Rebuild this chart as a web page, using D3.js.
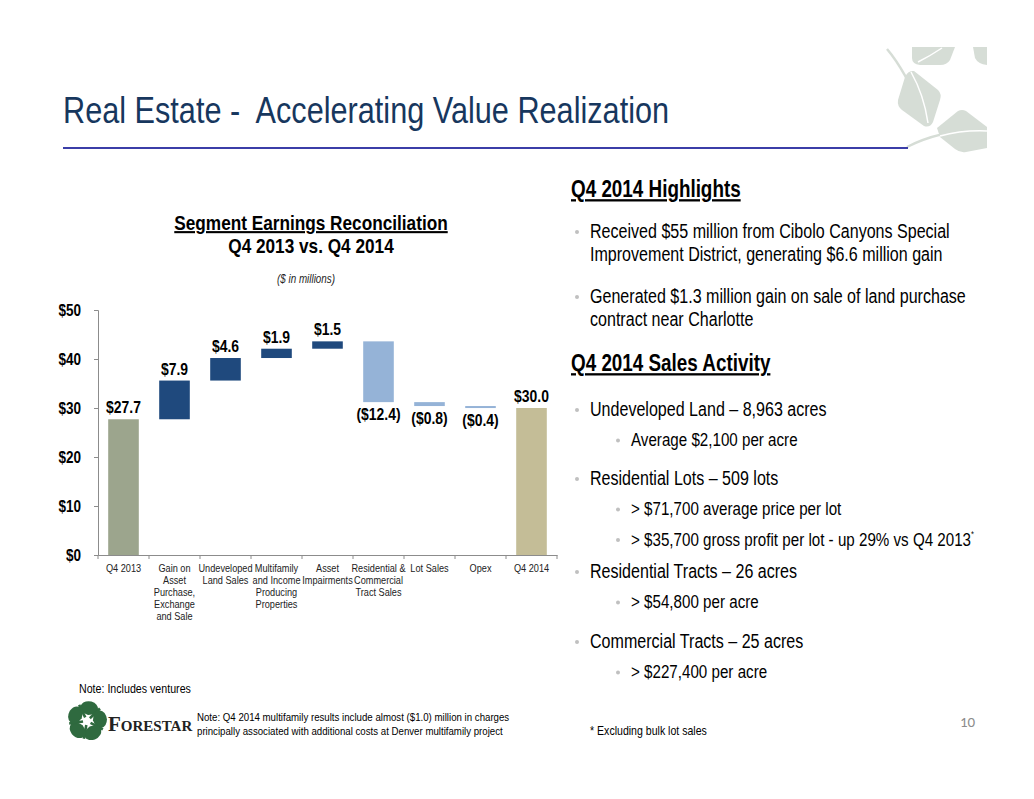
<!DOCTYPE html>
<html>
<head>
<meta charset="utf-8">
<script src="https://cdn.jsdelivr.net/npm/d3@7"></script>
<style>
  body { margin: 0; background: #fff; }
  svg { display: block; }
</style>
</head>
<body>
<svg id="slide" width="1034" height="799"></svg>
<script>
// waterfall data
const categories = ["Q4 2013", "Gain on\nAsset\nPurchase,\nExchange\nand Sale", "Undeveloped\nLand Sales",
    "Multifamily\nand Income\nProducing\nProperties", "Asset\nImpairments", "Residential &\nCommercial\nTract Sales",
    "Lot Sales", "Opex", "Q4 2014"];
const values = [27.7, 7.9, 4.6, 1.9, 1.5, -12.4, -0.8, -0.4, 30.0];
const kinds = ["start", "up", "up", "up", "up", "down", "down", "down", "end"];
const yTicks = [0, 10, 20, 30, 40, 50];

const highlights = [
    ["Received $55 million from Cibolo Canyons Special", "Improvement District, generating $6.6 million gain"],
    ["Generated $1.3 million gain on sale of land purchase", "contract near Charlotte"]
];
const salesActivity = [
    {main: "Undeveloped Land \u2013 8,963 acres", subs: ["Average $2,100 per acre"]},
    {main: "Residential Lots \u2013 509 lots", subs: ["> $71,700 average price per lot", "> $35,700 gross profit per lot - up 29% vs Q4 2013"]},
    {main: "Residential Tracts \u2013 26 acres", subs: ["> $54,800 per acre"]},
    {main: "Commercial Tracts \u2013 25 acres", subs: ["> $227,400 per acre"]}
];

const colorByKind = {start: "#9ca58d", up: "#1f497d", down: "#95b3d7", end: "#c4bd97"};
const sans = '"Liberation Sans", Arial, sans-serif';
const squeeze = 0.82;   // Arial -> Arial Narrow

let svg = d3.select("#slide");

// text squeezed horizontally around its anchor point
function ntext(parent, x, y, size, txt) {
    return parent.append("text")
        .attr("transform", "translate(" + x + "," + y + ") scale(" + squeeze + ",1)")
        .attr("font-family", sans).attr("font-size", size).text(txt);
}

// ---- decoration: leaves top right
let leaves = svg.append("g").attr("fill", "#d6ddd6");
leaves.append("path").attr("d", "M912,47 L955,47 L950,60 Q947,65 940,65 L920,65 Q912,64 912,58 Z");
leaves.append("path").attr("d", "M973,47 L987,47 L987,65 Q978,64 975,58 Z");
leaves.append("path").attr("d", "M887,49 Q905,70 927,120").attr("fill", "none").attr("stroke", "#d6ddd6").attr("stroke-width", 2.5);
leaves.append("path").attr("d", "M898,100 L905,77 Q908,70 914,71 L938,90 Q942,94 940,100 L933,122 Q930,128 924,126 L902,110 Q897,106 898,100 Z");
leaves.append("path").attr("d", "M937,128 L958,111 Q962,109 966,111 L987,127 L987,148 L966,152 Q960,153 955,149 L940,137 Z");
leaves.append("path").attr("d", "M907,147 Q945,128 987,131").attr("fill", "none").attr("stroke", "#d6ddd6").attr("stroke-width", 2.5);
let veins = svg.append("g").attr("fill", "none").attr("stroke", "#fff").attr("stroke-width", 1.5);
veins.append("path").attr("d", "M918,62 Q930,56 942,48");
veins.append("path").attr("d", "M911,72 Q924,95 928,123");
veins.append("path").attr("d", "M940,136 Q962,130 987,131");

// ---- title
ntext(svg, 63, 123, 37.4, "Real Estate -  Accelerating Value Realization").attr("fill", "#17375e")
    .style("white-space", "pre");
svg.append("line").attr("x1", 63).attr("x2", 908).attr("y1", 148).attr("y2", 148)
    .attr("stroke", "#3b3ea8").attr("stroke-width", 2);

// ---- chart
let margin = {top: 310, left: 98, bottom: 555, right: 557};
let xScale = d3.scaleBand().domain(categories).range([margin.left, margin.right])
    .paddingInner(0.4).paddingOuter(0.2);
let yScale = d3.scaleLinear().domain([0, 50]).range([margin.bottom, margin.top]);

ntext(svg, 311, 230, 21, "Segment Earnings Reconciliation").attr("text-anchor", "middle")
    .attr("font-weight", "bold").style("text-decoration", "underline");
ntext(svg, 311, 253, 21, "Q4 2013 vs. Q4 2014").attr("text-anchor", "middle").attr("font-weight", "bold");
ntext(svg, 306, 283, 12, "($ in millions)").attr("text-anchor", "middle")
    .attr("font-style", "italic").attr("fill", "#222");

// running totals for the floating bars
let bars = [];
let running = 0;
values.forEach(function(v, i) {
    let d = {cat: categories[i], value: v, kind: kinds[i]};
    if (kinds[i] === "start" || kinds[i] === "end") {
        d.lo = 0; d.hi = v; running = v;
    } else {
        d.lo = Math.min(running, running + v);
        d.hi = Math.max(running, running + v);
        running += v;
    }
    bars.push(d);
});

let yAxis = svg.append("g").attr("transform", "translate(" + margin.left + ",0)")
    .call(d3.axisLeft(yScale).tickValues(yTicks).tickSize(4).tickFormat(function(d) { return "$" + d; }));
yAxis.select(".domain").attr("stroke", "#8c8c8c");
yAxis.selectAll(".tick line").attr("stroke", "#8c8c8c");
yAxis.selectAll("text").attr("font-family", sans).attr("font-size", 16.5)
    .attr("font-weight", "bold").attr("fill", "#000")
    .attr("x", 0).attr("transform", "translate(-17,0) scale(" + squeeze + ",1)");

let xAxis = svg.append("g").attr("transform", "translate(0," + margin.bottom + ")")
    .call(d3.axisBottom(xScale).tickSize(0).tickFormat(""));
xAxis.select(".domain").attr("stroke", "#8c8c8c");
xAxis.selectAll(".tick").remove();
// tick marks sit on the band boundaries
let bounds = categories.map(function(c) { return xScale(c) - xScale.step() * 0.2; });
bounds.push(margin.right);
xAxis.selectAll(".bound").data(bounds).enter().append("line")
    .attr("x1", function(d) { return d; }).attr("x2", function(d) { return d; })
    .attr("y1", 0).attr("y2", 4).attr("stroke", "#8c8c8c");

let xLabels = svg.append("g").attr("fill", "#222");
categories.forEach(function(c) {
    let t = ntext(xLabels, xScale(c) + xScale.bandwidth() / 2, 572, 11.2, null).attr("text-anchor", "middle");
    c.split("\n").forEach(function(line, j) {
        t.append("tspan").attr("x", 0).attr("y", j * 12).text(line);
    });
});

svg.append("g").selectAll("rect").data(bars).enter().append("rect")
    .attr("x", function(d) { return xScale(d.cat); })
    .attr("width", xScale.bandwidth())
    .attr("y", function(d) { return yScale(d.hi); })
    .attr("height", function(d) { return Math.max(2, yScale(d.lo) - yScale(d.hi)); })
    .attr("fill", function(d) { return colorByKind[d.kind]; });

let valLabels = svg.append("g");
bars.forEach(function(d) {
    let s = "$" + Math.abs(d.value).toFixed(1);
    if (d.value < 0) s = "(" + s + ")";
    let y = d.kind === "down" ? yScale(d.lo) + 18 : yScale(d.hi) - 6;
    ntext(valLabels, xScale(d.cat) + xScale.bandwidth() / 2, y, 17, s)
        .attr("text-anchor", "middle").attr("font-weight", "bold");
});

// ---- notes and logo
ntext(svg, 79, 693, 13, "Note: Includes ventures");
let logo = svg.append("g").attr("transform", "translate(87,721)").attr("fill", "#2f6a3f");
d3.range(5).forEach(function(i) {
    // leaf pointing outward, tilted so the ring reads as a star
    logo.append("path").attr("transform", "rotate(" + (i * 72 + 10) + ")")
        .attr("d", "M0,-6 Q-10,-8 -9,-14 Q-7,-20 1,-20 Q8,-19 9,-13 Q9,-8 0,-6 Z");
    logo.append("path").attr("transform", "rotate(" + (i * 72 + 46) + ")")
        .attr("d", "M-1.3,-4 L1.3,-4 L1.3,-18 L-1.3,-18 Z");
});
svg.append("text").attr("x", 108).attr("y", 731).attr("font-family", "Liberation Serif, serif")
    .attr("font-weight", "bold").attr("font-size", 21).attr("fill", "#222")
    .style("font-variant", "small-caps").text("Forestar");
ntext(svg, 197, 721, 11.8, "Note: Q4 2014 multifamily results include almost ($1.0) million in charges");
ntext(svg, 197, 735, 11.8, "principally associated with additional costs at Denver multifamily project");

// ---- right column text
let right = svg.append("g").attr("fill", "#000");
function heading(y, txt) {
    ntext(right, 571, y, 23, txt).attr("font-weight", "bold").style("text-decoration", "underline");
}
function bullet(x, y, size, txt) {
    right.append("circle").attr("cx", x - 13).attr("cy", y - size * 0.3).attr("r", 2).attr("fill", "#c0c0c0");
    return ntext(right, x, y, size, txt);
}
heading(197, "Q4 2014 Highlights");
let yy = 238;
highlights.forEach(function(item) {
    bullet(590, yy, 19.6, item[0]);
    ntext(right, 590, yy + 23, 19.6, item[1]);
    yy += 65;
});
heading(371, "Q4 2014 Sales Activity");
let mainY = [416, 485, 578, 648];
salesActivity.forEach(function(item, i) {
    bullet(590, mainY[i], 19.6, item.main);
    item.subs.forEach(function(s, j) {
        let t = bullet(631, mainY[i] + 30 + j * 30.5, 18.5, s);
        if (i === 1 && j === 1) t.append("tspan").attr("font-size", 9).attr("dy", -9).text("*");
    });
});
ntext(svg, 590, 735, 12.9, "* Excluding bulk lot sales");
svg.append("text").attr("x", 960).attr("y", 727).attr("font-family", "Carlito, Calibri, sans-serif")
    .attr("font-size", 15).attr("fill", "#8c8c8c").text("10");
</script>
</body>
</html>
